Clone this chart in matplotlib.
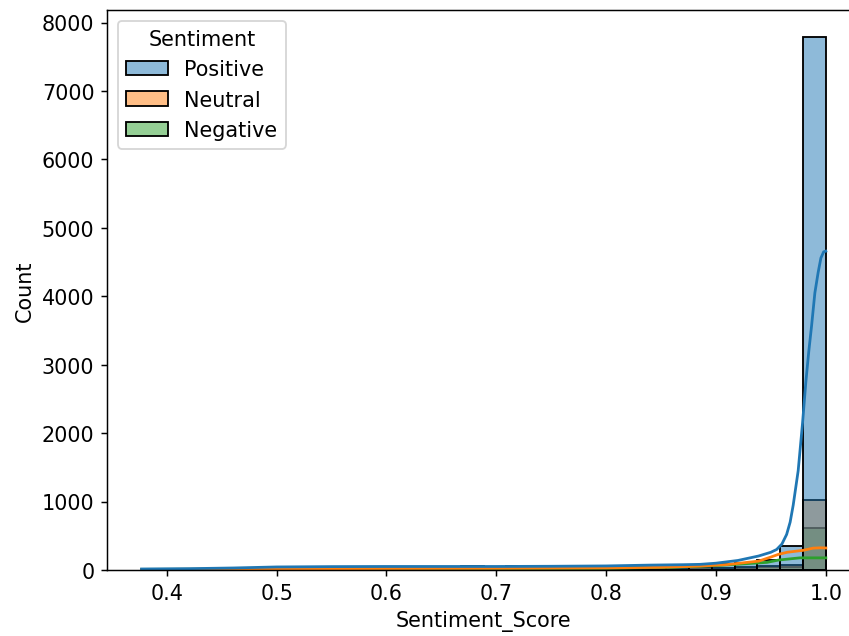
import numpy as np
import pandas as pd
import matplotlib
matplotlib.use('Agg')
import matplotlib.pyplot as plt
import seaborn as sns

levels = ['Positive', 'Neutral', 'Negative']

# 30 bins between lowest score and 1.0
lo, hi, nbins = 0.377, 1.0, 30

positive = [20, 15, 18, 20, 22, 25, 40, 45, 45, 48, 50, 50, 48, 50, 52,
            50, 55, 55, 55, 58, 60, 62, 65, 70, 75, 85, 110, 150, 350, 7790]
neutral = [3, 3, 4, 5, 5, 6, 10, 12, 12, 14, 15, 15, 16, 16, 18,
           18, 20, 20, 22, 22, 24, 25, 28, 32, 38, 35, 45, 60, 75, 1030]
negative = [4, 4, 5, 5, 6, 6, 8, 10, 10, 12, 12, 13, 14, 14, 15,
            16, 16, 18, 18, 20, 20, 22, 24, 26, 28, 25, 30, 40, 50, 620]

# kde curves (in counts)
kde_pos_x = [0.377, 0.42, 0.46, 0.50, 0.55, 0.60, 0.65, 0.70, 0.75, 0.80, 0.84,
             0.87, 0.8855, 0.90, 0.92, 0.9388, 0.95, 0.9552, 0.96, 0.9643, 0.9675,
             0.9703, 0.9748, 0.9788, 0.9818, 0.9845, 0.987, 0.99, 0.993, 0.9955,
             0.998, 1.0]
kde_pos_y = [15, 20, 30, 45, 50, 52, 52, 52, 55, 60, 72,
             78, 83, 100, 140, 205, 260, 300, 380, 520, 700,
             950, 1450, 2150, 2750, 3200, 3567, 4050, 4350, 4560,
             4650, 4660]
kde_neu_x = [0.377, 0.45, 0.50, 0.60, 0.70, 0.80, 0.85, 0.8855, 0.91, 0.9388,
             0.95, 0.957, 0.965, 0.9794, 0.9885, 0.995, 1.0]
kde_neu_y = [8, 12, 18, 22, 25, 30, 40, 58, 80, 130,
             190, 230, 260, 288, 320, 325, 322]
kde_neg_x = [0.377, 0.50, 0.60, 0.70, 0.80, 0.86, 0.90, 0.9464, 0.957, 0.9764, 1.0]
kde_neg_y = [10, 15, 18, 20, 25, 40, 65, 112, 146, 178, 178]

edges = np.linspace(lo, hi, nbins + 1)
centers = (edges[:-1] + edges[1:]) / 2
df = pd.DataFrame({
    'Sentiment_Score': np.concatenate([centers] * 3),
    'count': np.concatenate([positive, neutral, negative]),
    'Sentiment': np.repeat(levels, len(centers)),
})

plt.rcParams['font.size'] = 11.3

fig = plt.figure(figsize=(6.4, 4.8), dpi=132.66)
ax = fig.add_axes([0.1264, 0.1036, 0.8866, 0.879])

sns.histplot(data=df, x='Sentiment_Score', weights='count', hue='Sentiment',
             hue_order=levels, bins=nbins, binrange=(lo, hi), ax=ax)

colors = sns.color_palette()
ax.plot(kde_neg_x, kde_neg_y, color=colors[2], lw=1.5)
ax.plot(kde_neu_x, kde_neu_y, color=colors[1], lw=1.5)
ax.plot(kde_pos_x, kde_pos_y, color=colors[0], lw=1.5)

ax.set_xlabel('Sentiment_Score')
ax.set_ylabel('Count')

fig.savefig('out.png', dpi=132.66)
